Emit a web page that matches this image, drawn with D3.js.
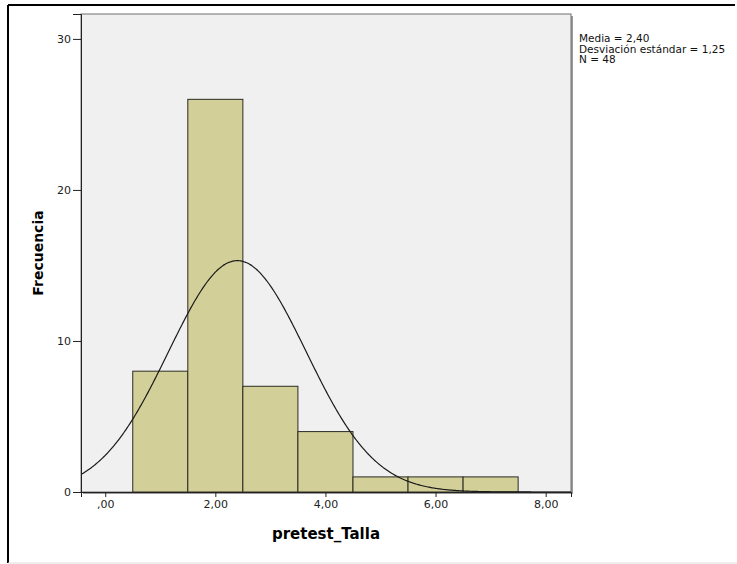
<!DOCTYPE html>
<html>
<head>
<meta charset="utf-8">
<script src="https://cdn.jsdelivr.net/npm/d3@7"></script>
<style>
  body { margin: 0; background: #fff; }
  svg text { font-family: "DejaVu Sans", Verdana, sans-serif; }
</style>
</head>
<body>
<div id="chart"></div>
<script>
// histogram data (bin centers and counts)
const binCenters = [1, 2, 3, 4, 5, 6, 7]
const counts = [8, 26, 7, 4, 1, 1, 1]
const binWidth = 1
const xTicks = [0, 2, 4, 6, 8]
const yTicks = [0, 10, 20, 30]
const mean = 2.40
const sd = 1.25
const n = 48
const statsLines = ['Media = 2,40', 'Desviación estándar = 1,25', 'N = 48']

const width = 737
const height = 564
const plot = {left: 81, top: 14, right: 571, bottom: 492}

const svg = d3.select('#chart').append('svg')
  .attr('width', width)
  .attr('height', height)

// outer frame
svg.append('line').attr('x1', 8).attr('x2', 735).attr('y1', 5).attr('y2', 5)
  .attr('stroke', '#000').attr('stroke-width', 2)
svg.append('line').attr('x1', 8).attr('x2', 8).attr('y1', 5).attr('y2', 563)
  .attr('stroke', '#000').attr('stroke-width', 2)
svg.append('line').attr('x1', 8).attr('x2', 737).attr('y1', 563).attr('y2', 563)
  .attr('stroke', '#ddd').attr('stroke-width', 1)

const x = d3.scaleLinear().domain([-0.44, 8.46]).range([plot.left, plot.right])
const y = d3.scaleLinear().domain([0, 31.65]).range([plot.bottom, plot.top])

// plot background with a small shadow
svg.append('rect')
  .attr('x', plot.left + 2).attr('y', plot.top + 2)
  .attr('width', plot.right - plot.left).attr('height', plot.bottom - plot.top)
  .attr('fill', '#9a9a9a')
svg.append('rect')
  .attr('x', plot.left).attr('y', plot.top)
  .attr('width', plot.right - plot.left).attr('height', plot.bottom - plot.top)
  .attr('fill', '#f0f0f0')
  .attr('stroke', '#707070').attr('stroke-width', 1)

svg.append('clipPath').attr('id', 'clip')
  .append('rect')
  .attr('x', plot.left).attr('y', plot.top)
  .attr('width', plot.right - plot.left).attr('height', plot.bottom - plot.top)

// bars
svg.append('g').selectAll('rect')
  .data(binCenters.map((c, i) => ({c, v: counts[i]})))
  .join('rect')
  .attr('x', d => x(d.c - binWidth / 2))
  .attr('y', d => y(d.v))
  .attr('width', d => x(d.c + binWidth / 2) - x(d.c - binWidth / 2))
  .attr('height', d => y(0) - y(d.v))
  .attr('fill', '#d3cf98')
  .attr('stroke', '#2b2b22')
  .attr('stroke-width', 1)

// normal curve
const pdf = v => n * binWidth / (sd * Math.sqrt(2 * Math.PI)) * Math.exp(-0.5 * ((v - mean) / sd) ** 2)
const curvePts = d3.range(-0.5, 8.5, 0.02)
svg.append('path')
  .datum(curvePts)
  .attr('clip-path', 'url(#clip)')
  .attr('fill', 'none')
  .attr('stroke', '#1a1a1a')
  .attr('stroke-width', 1.2)
  .attr('d', d3.line().x(d => x(d)).y(d => y(pdf(d))).curve(d3.curveBasis))

// axes
const fmt = d => d === 0 ? ',00' : d3.format('.2f')(d).replace('.', ',')
const xAxis = svg.append('g')
  .attr('transform', `translate(0, ${plot.bottom})`)
  .call(d3.axisBottom(x).tickValues(xTicks).tickFormat(fmt).tickSize(5).tickPadding(3))
xAxis.select('.domain').attr('stroke', '#222')
xAxis.selectAll('.tick line').attr('stroke', '#222')
xAxis.selectAll('text').attr('font-size', 11).attr('fill', '#222')

const yAxis = svg.append('g')
  .attr('transform', `translate(${plot.left}, 0)`)
  .call(d3.axisLeft(y).tickValues(yTicks).tickFormat(d3.format('d')).tickSize(8).tickPadding(2))
yAxis.select('.domain').attr('stroke', '#222')
yAxis.selectAll('.tick line').attr('stroke', '#222')
yAxis.selectAll('text').attr('font-size', 11).attr('fill', '#222')

// axis titles
svg.append('text')
  .attr('x', (plot.left + plot.right) / 2)
  .attr('y', 539)
  .attr('text-anchor', 'middle')
  .attr('font-size', 15).attr('font-weight', 'bold')
  .text('pretest_Talla')

svg.append('text')
  .attr('transform', `translate(43, ${(plot.top + plot.bottom) / 2}) rotate(-90)`)
  .attr('text-anchor', 'middle')
  .attr('font-size', 14).attr('font-weight', 'bold')
  .text('Frecuencia')

// stats box
svg.append('g').selectAll('text')
  .data(statsLines)
  .join('text')
  .attr('x', 579)
  .attr('y', (d, i) => 42 + i * 10.5)
  .attr('font-size', 10.5)
  .attr('fill', '#111')
  .text(d => d)
</script>
</body>
</html>
